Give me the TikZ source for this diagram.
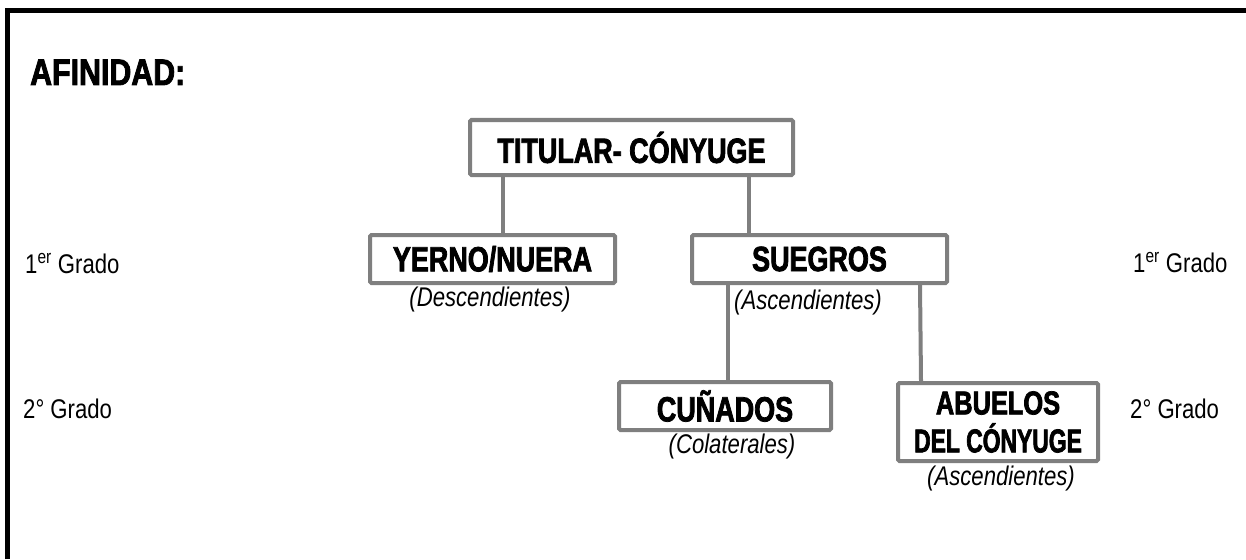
\documentclass[tikz,border=0pt]{standalone}
\usepackage{fontspec}
\setmainfont{Liberation Sans}
\newfontfamily\nr[FakeStretch=0.82]{Liberation Sans}
\newfontfamily\bx[FakeStretch=0.77,FakeBold=2.2]{Liberation Sans Bold}
\newfontfamily\afi[FakeStretch=0.82,FakeBold=2.2]{Liberation Sans Bold}
\definecolor{boxgray}{HTML}{7F7F7F}
\tikzset{
  box/.style={draw=boxgray, line width=4pt, fill=white, rounded corners=1.5pt,
    inner sep=0pt, align=center, font=\bx\fontsize{35}{38}\selectfont},
  conn/.style={draw=boxgray, line width=4pt},
  lbl/.style={font=\nr\itshape\fontsize{27}{30}\selectfont, inner sep=0pt},
  grado/.style={font=\nr\fontsize{27}{30}\selectfont, inner sep=0pt, anchor=base west},
}
\begin{document}
\begin{tikzpicture}[x=1pt,y=-1pt]
\useasboundingbox (0,0) rectangle (1246,559);
% frame
\draw[line width=5pt, black] (7.5,559) -- (7.5,10.5) -- (1246,10.5);
\node[anchor=base west, inner sep=0pt, font=\afi\fontsize{37}{40}\selectfont] (afin) at (30,85) {AFINIDAD:};
% boxes
\node[box, minimum width=323pt, minimum height=55pt] (tit) at (631.5,147.5) {TITULAR- CÓNYUGE};
\node[box, minimum width=245pt, minimum height=48pt] (yer) at (492.5,259) {YERNO/NUERA};
\node[box, minimum width=255pt, minimum height=48pt] (sue) at (819.5,259) {SUEGROS};
\node[box, minimum width=212pt, minimum height=48pt] (cun) at (725,406) {CUÑADOS};
\node[box, minimum width=200pt, minimum height=78pt, font=\bx\fontsize{33}{38}\selectfont] (abu) at (998,422) {ABUELOS\\\scalebox{0.9}[1]{DEL CÓNYUGE}};
% connectors
\draw[conn] ([xshift=-128.5pt]tit.south) -- ([xshift=10.5pt]yer.north);
\draw[conn] ([xshift=117.5pt]tit.south) -- ([xshift=-70.5pt]sue.north);
\draw[conn] ([xshift=-91.5pt]sue.south) -- ([xshift=3pt]cun.north);
\draw[conn] ([xshift=100.5pt]sue.south) -- ([xshift=-77pt]abu.north);
% italic labels
\node[lbl] (ldes) at (490,300) {(Descendientes)};
\node[lbl] (lasc1) at (808,303) {(Ascendientes)};
\node[lbl] (lcol) at (732,447) {(Colaterales)};
\node[lbl] (lasc2) at (1001,479) {(Ascendientes)};
% grado labels
\node[grado] (g1l) at (25,273) {1\textsuperscript{er} Grado};
\node[grado] (g2l) at (23,418) {2° Grado};
\node[grado] (g1r) at (1133,272) {1\textsuperscript{er} Grado};
\node[grado] (g2r) at (1130,418) {2° Grado};
\end{tikzpicture}
\end{document}
